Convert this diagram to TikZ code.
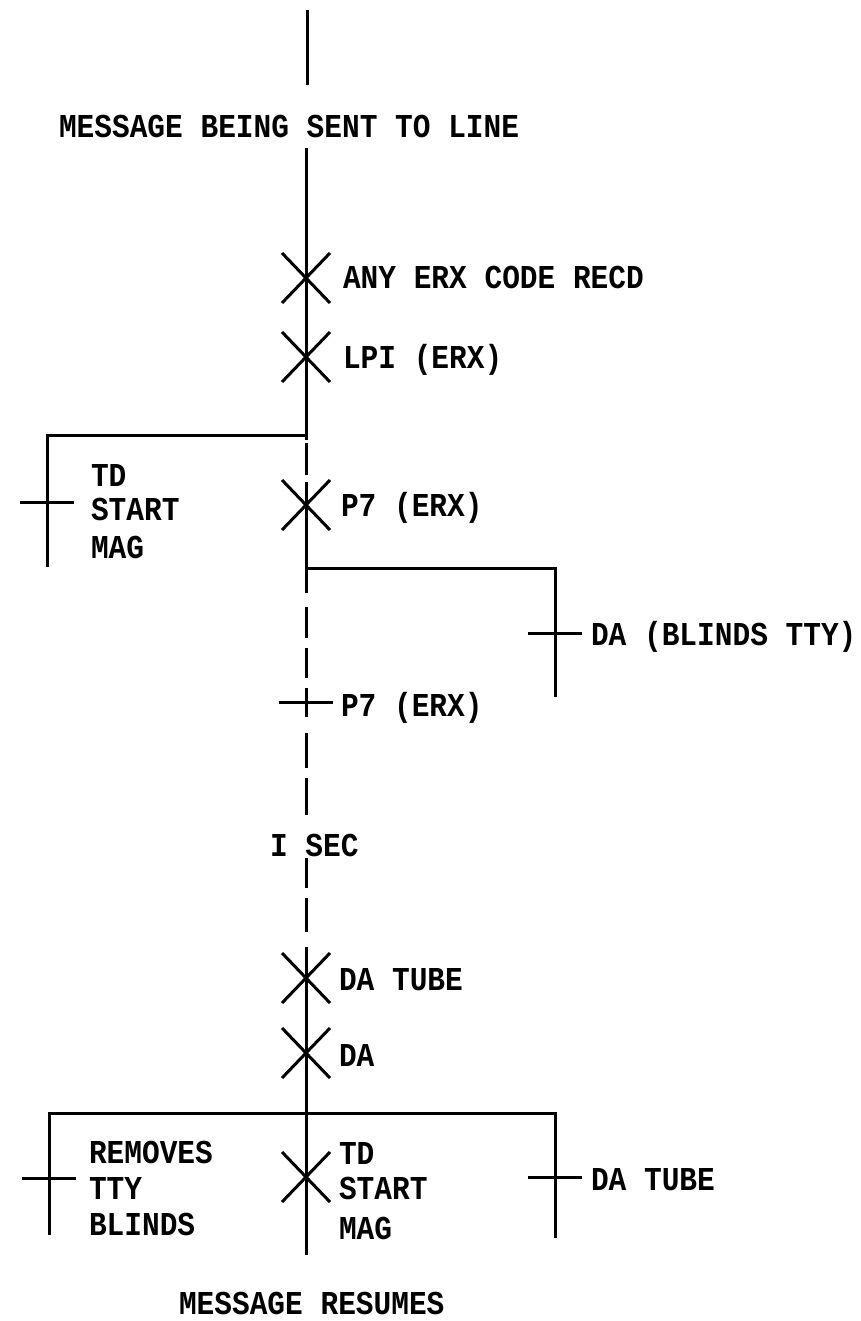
\documentclass[tikz,border=0pt]{standalone}
\usepackage{fontspec}
\newfontfamily\diagfont[FakeStretch=0.883]{Liberation Mono}
\begin{document}
\begin{tikzpicture}[x=1pt,y=-1pt,line width=3pt,
  lbl/.style={font=\diagfont\bfseries\fontsize{33.4}{36}\selectfont,anchor=base west,inner sep=0pt,outer sep=0pt},
  xmark/.pic={\draw (-24,-25)--(24,25) (-24,25)--(24,-25);},
  tickmark/.pic={\draw (-27,0)--(27,0);}]
\useasboundingbox (0,0) rectangle (860,1321);
% main line coordinates
\coordinate (top) at (307,10);
\coordinate (topend) at (307,85);
\coordinate (m1) at (306,148);
\coordinate (x1) at (306,278);
\coordinate (x2) at (306,357);
\coordinate (j1) at (306,435);
\coordinate (d1) at (306,482);
\coordinate (x3) at (306,505);
\coordinate (j2) at (306,568);
\coordinate (t1) at (306,702);
\coordinate (d2) at (306,947);
\coordinate (x4) at (306,978);
\coordinate (x5) at (306,1053);
\coordinate (jb) at (306,1113);
\coordinate (x6) at (306,1177);
\coordinate (bot) at (306,1255);
% branches
\coordinate (l1) at (47,435);
\coordinate (l1e) at (47,567);
\coordinate (lt1) at (47,502);
\coordinate (r1) at (555,568);
\coordinate (r1e) at (555,697);
\coordinate (rt1) at (555,633);
\coordinate (bl) at (49,1113);
\coordinate (ble) at (49,1235);
\coordinate (blt) at (49,1178);
\coordinate (br) at (555,1113);
\coordinate (bre) at (555,1238);
\coordinate (brt) at (555,1177);
% lines
\draw (top) -- (topend);
\draw (m1) -- (j1);
\draw[dash pattern=on 5pt off 3pt on 32pt off 7pt] (j1) -- (d1);
\draw (d1) -- (j2);
\draw[dash pattern=on 25pt off 14pt on 31pt off 10pt on 30pt off 10pt on 29pt off 16pt on 35pt off 10pt on 37pt off 43pt on 30pt off 10pt on 34pt off 15pt] (j2) -- (d2);
\draw (d2) -- (bot);
\draw[line join=miter] (l1e) -- (l1) -- (j1);
\draw[line join=miter] (j2) -- (r1) -- (r1e);
\draw[line join=miter] (ble) -- (bl) -- (br) -- (bre);
% marks
\pic at (x1) {xmark};
\pic at (x2) {xmark};
\pic at (x3) {xmark};
\pic at (x4) {xmark};
\pic at (x5) {xmark};
\pic at (x6) {xmark};
\pic at (lt1) {tickmark};
\pic at (rt1) {tickmark};
\pic at (t1) {tickmark};
\pic at (blt) {tickmark};
\pic at (brt) {tickmark};
% labels
\node[lbl] (sent) at (59,138) {MESSAGE BEING SENT TO LINE};
\node[lbl] (anyerx) at (343,288) {ANY ERX CODE RECD};
\node[lbl] (lpi) at (343,368) {LPI (ERX)};
\node[lbl] (td1) at (91,486) {TD};
\node[lbl] (start1) at (91,520) {START};
\node[lbl] (mag1) at (91,558) {MAG};
\node[lbl] (p7a) at (341,516) {P7 (ERX)};
\node[lbl] (dab) at (591,645) {DA (BLINDS TTY)};
\node[lbl] (p7b) at (341,716) {P7 (ERX)};
\node[lbl] (sec) at (270,856) {I SEC};
\node[lbl] (datube) at (339,990) {DA TUBE};
\node[lbl] (da) at (339,1066) {DA};
\node[lbl] (removes) at (89,1163) {REMOVES};
\node[lbl] (tty) at (89,1199) {TTY};
\node[lbl] (blinds) at (89,1235) {BLINDS};
\node[lbl] (td2) at (339,1164) {TD};
\node[lbl] (start2) at (339,1199) {START};
\node[lbl] (mag2) at (339,1239) {MAG};
\node[lbl] (datube2) at (591,1190) {DA TUBE};
\node[lbl] (resumes) at (179,1314) {MESSAGE RESUMES};
\end{tikzpicture}
\end{document}
